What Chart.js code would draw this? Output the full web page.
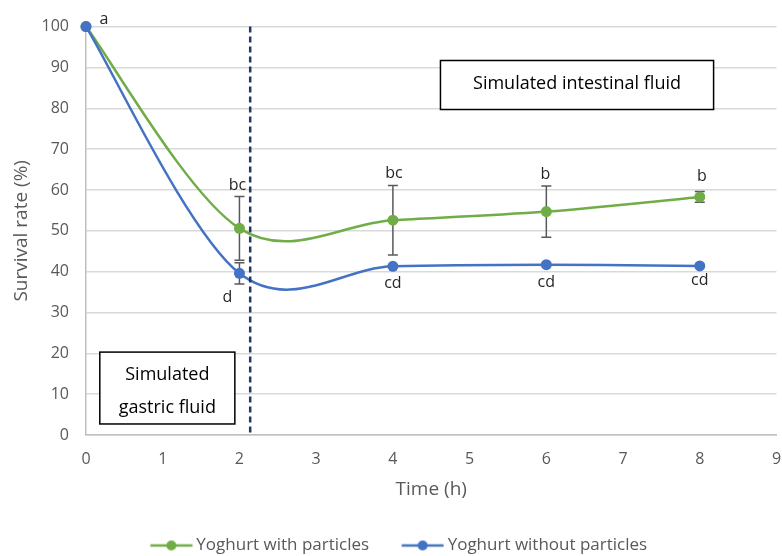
<!DOCTYPE html>
<html>
<head>
<meta charset="utf-8">
<script src="https://cdn.jsdelivr.net/npm/chart.js@4.4.0/dist/chart.umd.min.js"></script>
<style>
  html, body { margin: 0; padding: 0; background: #fff; }
  #wrap { width: 782px; height: 556px; }
</style>
</head>
<body>
<div id="wrap"><canvas id="lineChart"></canvas></div>
<script>
// data
const hours = [0, 2, 4, 6, 8];
const withParticles = [100, 50.6, 52.6, 54.7, 58.3];
const withoutParticles = [100, 39.6, 41.3, 41.7, 41.4];
const withParticlesErr = [0, 7.8, 8.5, 6.3, 1.3];
const withoutParticlesErr = [0, 2.6, 0, 0, 0];
const withLetters = ['a', 'bc', 'bc', 'b', 'b'];
const withoutLetters = ['', 'd', 'cd', 'cd', 'cd'];
const xTicks = [0, 1, 2, 3, 4, 5, 6, 7, 8, 9];
const yTicks = [0, 10, 20, 30, 40, 50, 60, 70, 80, 90, 100];
const phaseSwitch = 2.14; // end of gastric phase (dashed line)

const GREEN = '#70AD47';
const BLUE = '#4472C4';
const FONT = 'Open Sans';

// legend marker: line with a dot, blank space on the left as item spacing
function legendMarker(color) {
    const c = document.createElement('canvas');
    c.width = 76; c.height = 12;
    const g = c.getContext('2d');
    g.strokeStyle = color;
    g.lineWidth = 2.5;
    g.beginPath();
    g.moveTo(33.5, 6); g.lineTo(75.5, 6);
    g.stroke();
    g.fillStyle = color;
    g.beginPath();
    g.arc(54.5, 6, 5, 0, Math.PI * 2);
    g.fill();
    return c;
}

// Excel style smoothing: control points at 1/6 of the neighbour chord
const excelSmooth = {
    id: 'excelSmooth',
    afterLayout(chart) {
        // Excel's legend sits a little left of centre
        chart.legend.left -= 5;
        chart.legend.right -= 5;
    },
    beforeDatasetDraw(chart, args) {
        const meta = chart.getDatasetMeta(args.index);
        const pts = meta.data;
        const n = pts.length;
        for (let i = 0; i < n; i++) {
            const prev = pts[Math.max(i - 1, 0)];
            const next = pts[Math.min(i + 1, n - 1)];
            const dx = (next.x - prev.x) / 6, dy = (next.y - prev.y) / 6;
            pts[i].cp1x = pts[i].x - dx; pts[i].cp1y = pts[i].y - dy;
            pts[i].cp2x = pts[i].x + dx; pts[i].cp2y = pts[i].y + dy;
        }
        meta.dataset._pointsUpdated = true;
    }
};

// error bars, letters, phase line and boxes
const extras = {
    id: 'extras',
    beforeDatasetsDraw(chart) {
        const ctx = chart.ctx;
        const xs = chart.scales.x, ys = chart.scales.y;

        // error bars (under the markers)
        function bars(vals, errs) {
            ctx.save();
            ctx.strokeStyle = '#595959';
            ctx.lineWidth = 1.5;
            vals.forEach((v, i) => {
                if (!errs[i]) return;
                const px = xs.getPixelForValue(hours[i]);
                const top = ys.getPixelForValue(v + errs[i]);
                const bot = ys.getPixelForValue(v - errs[i]);
                ctx.beginPath();
                ctx.moveTo(px, top); ctx.lineTo(px, bot);
                ctx.moveTo(px - 5, top); ctx.lineTo(px + 5, top);
                ctx.moveTo(px - 5, bot); ctx.lineTo(px + 5, bot);
                ctx.stroke();
            });
            ctx.restore();
        }
        bars(withParticles, withParticlesErr);
        bars(withoutParticles, withoutParticlesErr);
    },
    afterDatasetsDraw(chart) {
        const ctx = chart.ctx;
        const xs = chart.scales.x, ys = chart.scales.y;
        const area = chart.chartArea;

        // significance letters
        const greenOffsets = [[18, -7], [-2, -43], [1, -47], [-1, -37], [2, -20]];
        const blueOffsets = [[0, 0], [-12, 24], [0, 17], [0, 18], [0, 15]];
        ctx.save();
        ctx.font = '16px "' + FONT + '"';
        ctx.fillStyle = '#262626';
        ctx.textAlign = 'center';
        ctx.textBaseline = 'middle';
        withLetters.forEach((t, i) => {
            const px = xs.getPixelForValue(hours[i]);
            const py = ys.getPixelForValue(withParticles[i]);
            ctx.fillText(t, px + greenOffsets[i][0], py + greenOffsets[i][1]);
        });
        withoutLetters.forEach((t, i) => {
            if (!t) return;
            const px = xs.getPixelForValue(hours[i]);
            const py = ys.getPixelForValue(withoutParticles[i]);
            ctx.fillText(t, px + blueOffsets[i][0], py + blueOffsets[i][1]);
        });
        ctx.restore();

        // dashed line between gastric and intestinal phase
        const lx = xs.getPixelForValue(phaseSwitch);
        ctx.save();
        ctx.strokeStyle = '#203864';
        ctx.lineWidth = 2.5;
        ctx.setLineDash([6, 4]);
        ctx.beginPath();
        ctx.moveTo(lx, area.top);
        ctx.lineTo(lx, area.bottom);
        ctx.stroke();
        ctx.restore();

        // text boxes
        function box(x1, y1, x2, y2, lines, dy) {
            const l = xs.getPixelForValue(x1), r = xs.getPixelForValue(x2);
            const t = ys.getPixelForValue(y1), b = ys.getPixelForValue(y2);
            ctx.save();
            ctx.fillStyle = '#fff';
            ctx.fillRect(l, t, r - l, b - t);
            ctx.strokeStyle = '#000';
            ctx.lineWidth = 1.5;
            ctx.strokeRect(l, t, r - l, b - t);
            ctx.fillStyle = '#000';
            ctx.font = '18px "' + FONT + '"';
            ctx.textAlign = 'center';
            ctx.textBaseline = 'middle';
            const cy = (t + b) / 2 + dy, lh = 33;
            lines.forEach((s, k) => {
                ctx.fillText(s, (l + r) / 2, cy + (k - (lines.length - 1) / 2) * lh);
            });
            ctx.restore();
        }
        box(4.62, 91.7, 8.18, 79.7, ['Simulated intestinal fluid'], -1);
        box(0.18, 20.3, 1.94, 2.7, ['Simulated', 'gastric fluid'], 3);
    }
};

const ctx = document.getElementById('lineChart').getContext('2d');
const survivalChart = new Chart(ctx, {
    type: 'line',
    data: {
        datasets: [
            {
                label: 'Yoghurt with particles',
                data: hours.map((h, i) => ({ x: h, y: withParticles[i] })),
                borderColor: GREEN,
                backgroundColor: GREEN,
                borderWidth: 2.5,
                pointRadius: 5.5,
                pointBorderWidth: 0,
                tension: 0.4,
                clip: false,
                order: 2
            },
            {
                label: 'Yoghurt without particles',
                data: hours.map((h, i) => ({ x: h, y: withoutParticles[i] })),
                borderColor: BLUE,
                backgroundColor: BLUE,
                borderWidth: 2.5,
                pointRadius: 5.5,
                pointBorderWidth: 0,
                tension: 0.4,
                clip: false,
                order: 1
            }
        ]
    },
    options: {
        responsive: true,
        maintainAspectRatio: false,
        animation: false,
        layout: { padding: { top: 26, right: 3, left: 0, bottom: -8 } },
        scales: {
            x: {
                type: 'linear',
                min: 0,
                max: 9,
                afterBuildTicks: (s) => { s.ticks = xTicks.map(v => ({ value: v })); },
                afterFit: (s) => { s.height = 98; s.paddingLeft = 0; s.paddingRight = 0; },
                grid: { display: false, drawTicks: false },
                border: { display: true, color: '#BFBFBF', width: 1.5 },
                ticks: { color: '#595959', font: { family: FONT, size: 16 }, padding: 15 },
                title: {
                    display: true,
                    text: 'Time (h)',
                    color: '#595959',
                    font: { family: FONT, size: 19 },
                    padding: { top: 0, bottom: 32 }
                }
            },
            y: {
                min: 0,
                max: 100,
                afterBuildTicks: (s) => { s.ticks = yTicks.map(v => ({ value: v })); },
                afterFit: (s) => { s.width = 86; },
                grid: { color: '#D9D9D9', lineWidth: 1.5, drawTicks: false },
                border: { display: true, color: '#BFBFBF', width: 1.5 },
                ticks: { color: '#595959', font: { family: FONT, size: 16 }, padding: 17 },
                title: {
                    display: true,
                    text: 'Survival rate (%)',
                    color: '#595959',
                    font: { family: FONT, size: 19 },
                    padding: { top: 10, bottom: 0 }
                }
            }
        },
        plugins: {
            legend: {
                position: 'bottom',
                labels: {
                    usePointStyle: true,
                    pointStyleWidth: 66,
                    padding: 4,
                    color: '#595959',
                    font: { family: FONT, size: 17 },
                    sort: (a, b) => a.datasetIndex - b.datasetIndex,
                    generateLabels: (chart) => chart.data.datasets.map((d, i) => ({
                        text: d.label,
                        pointStyle: legendMarker(d.borderColor),
                        fillStyle: d.borderColor,
                        strokeStyle: d.borderColor,
                        lineWidth: 0,
                        fontColor: '#595959',
                        hidden: false,
                        datasetIndex: i
                    }))
                }
            },
            tooltip: { enabled: false }
        }
    },
    plugins: [excelSmooth, extras]
});
</script>
</body>
</html>
